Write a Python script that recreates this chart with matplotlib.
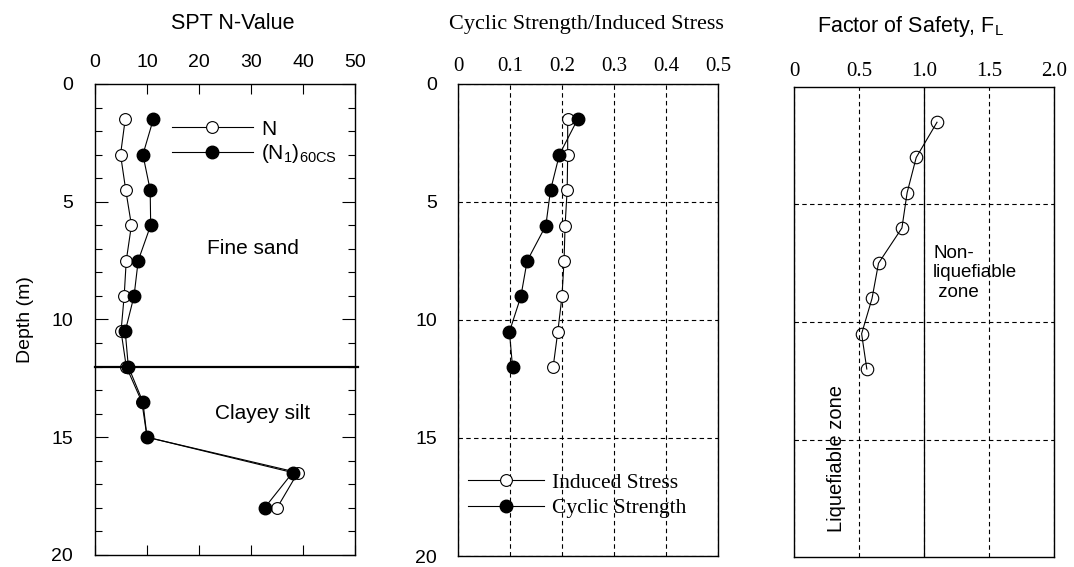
import numpy as np
import matplotlib
matplotlib.use("Agg")
import matplotlib.pyplot as plt

plt.rcParams['font.family'] = ['Liberation Sans', 'DejaVu Sans']

# depths of the SPT samples (m)
depth = [1.5, 3, 4.5, 6, 7.5, 9, 10.5, 12, 13.5, 15, 16.5, 18]
n_spt = [5.8, 4.9, 5.9, 7.0, 6.0, 5.6, 5.0, 6.0, 9.0, 10.0, 39.0, 35.0]
n1_60cs = [11.2, 9.2, 10.6, 10.7, 8.3, 7.5, 5.8, 6.4, 9.2, 10.0, 38.0, 32.6]
layer_boundary = 12

# liquefaction analysis (fine sand only)
depth_liq = [1.5, 3, 4.5, 6, 7.5, 9, 10.5, 12]
induced_stress = [0.211, 0.211, 0.210, 0.206, 0.204, 0.200, 0.192, 0.183]
cyclic_strength = [0.230, 0.195, 0.178, 0.169, 0.133, 0.121, 0.099, 0.105]
fs_liq = [1.10, 0.94, 0.87, 0.83, 0.65, 0.60, 0.52, 0.56]

serif = ['Liberation Serif', 'DejaVu Serif']
fs_tick = 14
grid_ls = (0, (4, 3))

fig = plt.figure(figsize=(10.74, 5.67), dpi=100)
ax1 = fig.add_axes([0.0885, 0.0212, 0.2421, 0.8307])
ax2 = fig.add_axes([0.4264, 0.0194, 0.2421, 0.8325])
ax3 = fig.add_axes([0.7393, 0.0176, 0.2421, 0.8290])

# ---- panel 1: SPT N-value
ax1.plot(n_spt, depth, color='black', lw=0.8, marker='o', ms=8.5,
         mfc='white', mec='black', mew=0.8, label='N')
ax1.plot(n1_60cs, depth, color='black', lw=0.8, marker='o', ms=9,
         mfc='black', mec='black', label=r'(N$_{\mathregular{1}}$)$_{\mathregular{60CS}}$')
ax1.axhline(layer_boundary, xmin=0, xmax=1.012, color='black', lw=1.6, clip_on=False)
ax1.set_xlim(0, 50)
ax1.set_ylim(20, 0)
ax1.set_xticks(np.arange(0, 51, 10))
ax1.set_yticks(np.arange(0, 21, 5))
ax1.set_yticks(np.arange(0, 21, 1), minor=True)
ax1.xaxis.set_ticks_position('both')
ax1.yaxis.set_ticks_position('both')
ax1.tick_params(axis='x', which='major', direction='in', length=7, width=0.8,
                labeltop=True, labelbottom=False, labelsize=fs_tick, pad=9)
ax1.tick_params(axis='y', which='major', direction='in', length=9.5, width=0.8,
                labelsize=fs_tick, pad=16)
ax1.tick_params(axis='y', which='minor', direction='in', length=5, width=0.8)
ax1.set_ylabel('Depth (m)', fontsize=14, labelpad=12)
ax1.text(30.4, 7.0, 'Fine sand', fontsize=15, ha='center', va='center')
ax1.text(32.3, 14.0, 'Clayey silt', fontsize=15, ha='center', va='center')
ax1.legend(loc='upper left', bbox_to_anchor=(0.295, 0.924), frameon=False,
           fontsize=15, handlelength=3.9, handletextpad=0.4,
           labelspacing=0.15, borderpad=0, borderaxespad=0)
fig.text(0.217, 0.958, 'SPT N-Value', fontsize=15.5, ha='center', va='center')

# ---- panel 2: cyclic strength / induced stress
ax2.plot(induced_stress, depth_liq, color='black', lw=0.8, marker='o', ms=8.5,
         mfc='white', mec='black', mew=0.8, label='Induced Stress')
ax2.plot(cyclic_strength, depth_liq, color='black', lw=0.8, marker='o', ms=9,
         mfc='black', mec='black', label='Cyclic Strength')
ax2.set_xlim(0, 0.5)
ax2.set_ylim(20, 0)
ax2.set_xticks(np.arange(0, 0.51, 0.1))
ax2.set_xticklabels(['0', '0.1', '0.2', '0.3', '0.4', '0.5'], family=serif)
ax2.set_yticks(np.arange(0, 21, 5))
ax2.xaxis.tick_top()
ax2.tick_params(axis='x', length=0, labelsize=fs_tick + 1, pad=6)
ax2.tick_params(axis='y', length=0, labelsize=fs_tick, pad=15)
ax2.grid(True, color='black', lw=0.8, ls=grid_ls)
ax2.legend(loc='upper left', bbox_to_anchor=(0.04, 0.176), frameon=False,
           prop={'family': serif, 'size': 15.5}, handlelength=3.5,
           handletextpad=0.4, labelspacing=0.25, borderpad=0, borderaxespad=0)
fig.text(0.546, 0.957, 'Cyclic Strength/Induced Stress', fontsize=16,
         family=serif, ha='center', va='center')

# ---- panel 3: factor of safety
ax3.plot(fs_liq, depth_liq, color='black', lw=0.8, marker='o', ms=9,
         mfc='none', mec='black', mew=0.8)
ax3.set_xlim(0, 2.0)
ax3.set_ylim(20, 0)
ax3.set_xticks([0, 0.5, 1.0, 1.5, 2.0])
ax3.set_xticklabels(['0', '0.5', '1.0', '1.5', '2.0'], family=serif)
ax3.set_yticks([5, 10, 15])
ax3.xaxis.tick_top()
ax3.tick_params(axis='x', length=0, labelsize=fs_tick + 1, pad=4)
ax3.tick_params(axis='y', length=0, labelleft=False)
ax3.grid(True, color='black', lw=0.8, ls=grid_ls)
ax3.axvline(1.0, color='black', lw=0.9)
ax3.text(1.07, 7.9, 'Non-\nliquefiable\n zone', fontsize=13.5, ha='left',
         va='center', linespacing=1.2)
ax3.text(0.33, 15.8, 'Liquefiable zone', fontsize=14.5, rotation=90,
         ha='center', va='center')
fig.text(0.848, 0.953, r'Factor of Safety, F$_{\mathregular{L}}$', fontsize=15.5,
         ha='center', va='center')

for ax in (ax1, ax2, ax3):
    for s in ax.spines.values():
        s.set_linewidth(1.0)

fig.savefig('out.png', dpi=100)
